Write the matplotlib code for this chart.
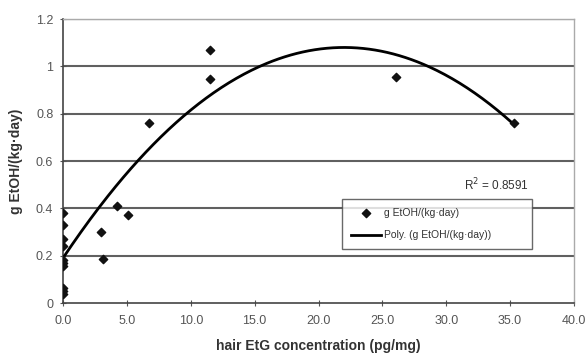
import numpy as np
import matplotlib.pyplot as plt

plt.rcParams['font.family'] = ['Liberation Sans', 'DejaVu Sans']

# hair EtG (pg/mg) vs g EtOH/(kg·day)
etg = [0.0, 0.0, 0.0, 0.0, 0.0, 0.0, 0.0, 0.0, 0.0, 0.0,
       3.0, 3.1, 4.2, 5.05, 6.7, 11.5, 11.5, 26.1, 35.3]
etoh = [0.38, 0.33, 0.27, 0.24, 0.18, 0.17, 0.155, 0.065, 0.05, 0.04,
        0.30, 0.186, 0.41, 0.37, 0.76, 1.07, 0.946, 0.955, 0.76]

# 2nd order polynomial trend line (as shown in the chart)
poly_coef = [-0.001839, 0.0809, 0.19]
r2_text = "R$^2$ = 0.8591"

xticks = np.arange(0, 40.1, 5)
yticks = [0, 0.2, 0.4, 0.6, 0.8, 1, 1.2]
ytick_labels = ["0", "0.2", "0.4", "0.6", "0.8", "1", "1.2"]

fig = plt.figure(figsize=(5.86, 3.57), dpi=100)
ax = fig.add_axes([63 / 586, 1 - 303 / 357, (574 - 63) / 586, (303 - 19) / 357])

grey = '#555555'
for yv in yticks[1:]:
    ax.axhline(yv, color='#606060', lw=1.5, zorder=1)

xs = np.linspace(0, max(etg), 300)
ax.plot(xs, np.polyval(poly_coef, xs), color='black', lw=2.0, zorder=3,
        label='Poly. (g EtOH/(kg·day))')
ax.scatter(etg, etoh, marker='D', s=18, color='#111111', zorder=4,
           label='g EtOH/(kg·day)')

ax.set_xlim(0, 40)
ax.set_ylim(0, 1.2)
ax.set_xticks(xticks)
ax.set_xticklabels([f"{v:.1f}" for v in xticks])
ax.set_yticks(yticks)
ax.set_yticklabels(ytick_labels)
ax.tick_params(labelsize=9, colors=grey, length=4, direction='inout')
ax.tick_params(axis='x', pad=7)
ax.tick_params(axis='y', pad=5)

for side in ['left', 'bottom']:
    ax.spines[side].set_color('#444444')
    ax.spines[side].set_linewidth(1.2)
for side in ['top', 'right']:
    ax.spines[side].set_color('#aaaaaa')
    ax.spines[side].set_linewidth(1.0)

ax.set_xlabel('hair EtG concentration (pg/mg)', fontsize=10, fontweight='bold',
              color='#333333', labelpad=8)
ax.set_ylabel('g EtOH/(kg·day)', fontsize=10, fontweight='bold',
              color='#333333', labelpad=9)

ax.text((496 - 63) / 511, (303 - 185) / 284, r2_text, transform=ax.transAxes,
        fontsize=8.5, color='#333333', ha='center', va='center')

# legend box spans roughly x 342..532, y 199..251 px
lx0 = (342 - 63) / 511
lx1 = (532 - 63) / 511
ly_top = (303 - 199) / 284
handles, labels = ax.get_legend_handles_labels()
leg = ax.legend(handles[::-1], labels[::-1], loc='upper left',
                bbox_to_anchor=(lx0, ly_top - 0.2, lx1 - lx0, 0.2), mode='expand',
                fontsize=7.5, frameon=True, fancybox=False, handlelength=2.9,
                handletextpad=0.3, borderpad=0.85, labelspacing=1.2,
                borderaxespad=0)
leg.get_frame().set_edgecolor('#444444')
leg.get_frame().set_linewidth(1.0)
for t in leg.get_texts():
    t.set_color('#333333')

fig.savefig('out.png', dpi=100)
